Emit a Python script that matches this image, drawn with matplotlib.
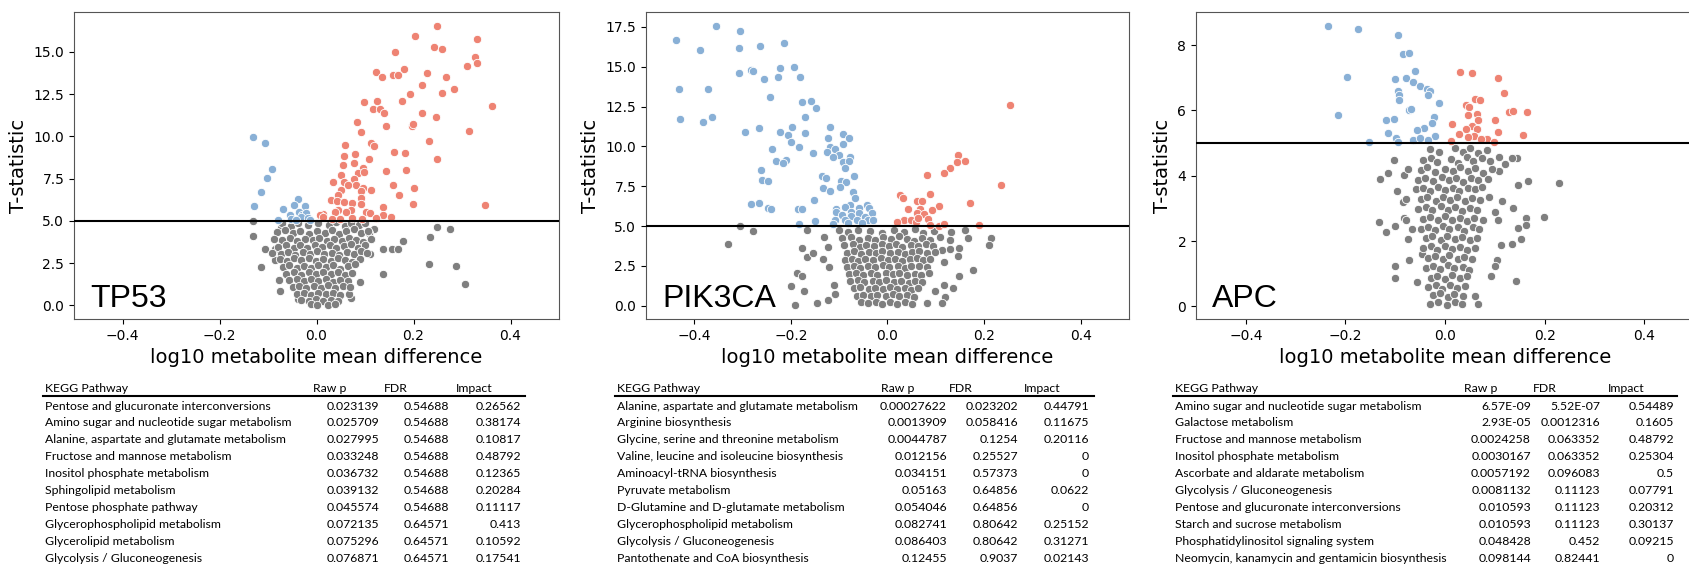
import numpy as np
import matplotlib.pyplot as plt
from matplotlib.lines import Line2D

# ---- scatter data (x = log10 mean difference, y = T-statistic) ----
tp53_up = [
    (0.249, 16.53), (0.204, 15.91), (0.331, 15.77), (0.242, 15.26), (0.259, 15.14),
    (0.161, 14.98), (0.326, 14.68), (0.331, 14.35), (0.311, 14.15), (0.180, 13.99),
    (0.123, 13.83), (0.158, 13.65), (0.168, 13.65), (0.227, 13.73), (0.135, 13.49),
    (0.266, 13.49), (0.218, 13.04), (0.283, 12.80), (0.258, 12.56), (0.192, 12.50),
    (0.098, 12.06), (0.125, 12.10), (0.176, 12.10), (0.116, 11.61), (0.131, 11.61),
    (0.139, 11.41), (0.362, 11.81), (0.218, 11.37), (0.247, 11.13), (0.144, 10.63),
    (0.196, 10.62), (0.199, 10.75), (0.083, 10.83), (0.314, 10.34), (0.092, 10.28),
    (0.232, 9.74), (0.113, 9.58), (0.119, 9.42), (0.058, 9.46), (0.159, 9.07),
    (0.182, 9.03), (0.080, 8.93), (0.056, 8.81), (0.249, 8.67), (0.108, 8.67),
    (0.078, 8.41), (0.054, 8.31), (0.096, 8.10), (0.144, 7.96), (0.185, 8.02),
    (0.086, 7.84), (0.098, 7.90), (0.050, 7.70), (0.077, 7.46), (0.035, 7.30),
    (0.056, 7.30), (0.157, 7.12), (0.081, 7.12), (0.065, 7.12), (0.050, 6.85),
    (0.112, 6.83), (0.096, 6.92), (0.201, 6.94), (0.092, 6.77), (0.170, 6.51),
    (0.044, 6.53), (0.092, 6.33), (0.030, 6.25), (0.043, 6.17), (0.056, 6.13),
    (0.074, 6.05), (0.092, 6.01), (0.199, 5.99), (0.347, 5.95), (0.137, 5.83),
    (0.044, 5.65), (0.072, 5.62), (0.038, 5.50), (0.102, 5.54), (0.111, 5.46),
    (0.013, 5.42), (0.061, 5.50), (0.137, 5.34), (0.007, 5.34), (0.153, 5.22),
    (0.123, 5.18), (0.013, 5.22), (0.032, 5.10), (0.048, 5.12), (0.074, 5.14),
    (0.094, 5.10),
]
tp53_down = [
    (-0.130, 9.94), (-0.106, 9.60), (-0.092, 8.06), (-0.103, 7.56), (-0.115, 6.71),
    (-0.128, 5.87), (-0.038, 6.31), (-0.047, 5.93), (-0.024, 5.89), (-0.069, 5.71),
    (-0.037, 5.54), (-0.055, 5.36), (-0.030, 5.36), (-0.021, 5.46), (-0.079, 5.06),
    (-0.052, 5.10), (-0.031, 5.22), (-0.018, 5.16), (-0.013, 5.06), (-0.043, 5.06),
]
tp53_ns = [
    (-0.130, 4.98), (-0.130, 4.11), (-0.114, 2.26), (-0.076, 0.83), (0.248, 4.62),
    (0.275, 4.50), (0.235, 4.05), (0.232, 2.42), (0.288, 2.34), (0.306, 1.27),
    (0.137, 1.83), (0.137, 3.31), (0.156, 3.31), (0.168, 3.35), (0.179, 3.79),
    (0.119, 4.54), (0.113, 3.91), (0.108, 4.27), (0.111, 3.04), (0.089, 1.39),
    (0.072, 0.44), (0.066, 0.69), (-0.086, 2.68), (-0.107, 3.31), (-0.085, 3.31),
    (-0.074, 4.60), (-0.078, 1.53), (-0.038, 0.36),
    (-0.072, 4.85), (-0.052, 4.72), (-0.038, 4.90), (-0.018, 4.78), (0.004, 4.88),
    (0.026, 4.74), (0.041, 4.92), (0.058, 4.70), (0.072, 4.86), (0.088, 4.76),
    (0.101, 4.90),
    (-0.081, 4.32), (-0.064, 4.45), (-0.049, 4.28), (-0.033, 4.40), (-0.016, 4.25),
    (0.001, 4.42), (0.017, 4.30), (0.032, 4.47), (0.046, 4.22), (0.061, 4.38),
    (0.077, 4.50), (0.092, 4.28), (0.106, 4.40),
    (-0.088, 3.92), (-0.071, 3.84), (-0.054, 3.98), (-0.041, 3.80), (-0.024, 3.95),
    (-0.008, 3.86), (0.006, 4.00), (0.021, 3.82), (0.036, 3.94), (0.052, 3.78),
    (0.066, 3.96), (0.081, 3.85), (0.096, 3.72), (0.112, 3.90),
    (-0.079, 3.45), (-0.063, 3.58), (-0.047, 3.42), (-0.034, 3.55), (-0.019, 3.40),
    (-0.003, 3.60), (0.012, 3.45), (0.027, 3.58), (0.041, 3.38), (0.057, 3.52),
    (0.071, 3.62), (0.086, 3.42), (0.099, 3.55),
    (-0.092, 3.12), (-0.074, 3.05), (-0.058, 3.18), (-0.044, 3.00), (-0.028, 3.15),
    (-0.013, 3.02), (0.002, 3.20), (0.016, 3.06), (0.031, 3.12), (0.047, 2.98),
    (0.062, 3.16), (0.077, 3.04), (0.091, 3.22), (0.104, 3.10),
    (-0.076, 2.72), (-0.061, 2.62), (-0.046, 2.78), (-0.031, 2.66), (-0.016, 2.80),
    (-0.001, 2.60), (0.014, 2.75), (0.029, 2.64), (0.044, 2.80), (0.059, 2.68),
    (0.074, 2.58), (0.089, 2.76),
    (-0.069, 2.28), (-0.056, 2.38), (-0.041, 2.22), (-0.026, 2.35), (-0.011, 2.20),
    (0.004, 2.40), (0.019, 2.25), (0.034, 2.36), (0.049, 2.18), (0.064, 2.32),
    (0.079, 2.42),
    (-0.062, 1.88), (-0.046, 1.98), (-0.031, 1.82), (-0.016, 1.95), (-0.001, 1.85),
    (0.014, 2.00), (0.029, 1.84), (0.044, 1.96), (0.059, 1.80), (0.074, 1.92),
    (-0.056, 1.48), (-0.041, 1.56), (-0.026, 1.42), (-0.011, 1.58), (0.004, 1.45),
    (0.019, 1.55), (0.034, 1.40), (0.049, 1.52), (0.064, 1.46),
    (-0.049, 1.08), (-0.036, 1.16), (-0.021, 1.02), (-0.006, 1.14), (0.009, 1.05),
    (0.024, 1.18), (0.039, 1.00), (0.054, 1.12), (0.069, 1.06),
    (-0.041, 0.68), (-0.026, 0.74), (-0.011, 0.62), (0.004, 0.75), (0.019, 0.66),
    (0.034, 0.72), (0.049, 0.64),
    (-0.031, 0.32), (-0.016, 0.26), (-0.001, 0.36), (0.014, 0.28), (0.029, 0.34),
    (0.044, 0.25),
    (-0.012, 0.06), (0.001, 0.02), (0.024, 0.04), (0.038, 0.10),
]

pik3ca_up = [
    (0.254, 12.60), (0.146, 9.44), (0.143, 9.02), (0.161, 9.06), (0.129, 8.66),
    (0.118, 8.32), (0.081, 8.23), (0.236, 7.57), (0.088, 6.98), (0.026, 6.94),
    (0.033, 6.75), (0.062, 6.60), (0.072, 6.58), (0.171, 6.47), (0.106, 6.26),
    (0.067, 6.09), (0.043, 6.05), (0.092, 6.00), (0.061, 5.81), (0.075, 5.73),
    (0.035, 5.41), (0.048, 5.35), (0.059, 5.24), (0.083, 5.45), (0.087, 5.09),
    (0.106, 5.03), (0.116, 5.13), (0.190, 5.09), (0.020, 5.24), (0.064, 5.52),
]
pik3ca_down = [
    (-0.356, 17.56), (-0.306, 17.23), (-0.438, 16.67), (-0.214, 16.50), (-0.263, 16.31),
    (-0.388, 16.08), (-0.308, 16.19), (-0.193, 14.96), (-0.222, 14.89), (-0.282, 14.81),
    (-0.279, 14.74), (-0.308, 14.59), (-0.227, 14.34), (-0.181, 14.36), (-0.255, 14.21),
    (-0.431, 13.62), (-0.372, 13.60), (-0.244, 13.11), (-0.176, 12.81), (-0.158, 12.83),
    (-0.148, 12.43), (-0.429, 11.71), (-0.364, 11.86), (-0.381, 11.52), (-0.170, 11.84),
    (-0.119, 11.22), (-0.197, 11.20), (-0.267, 11.14), (-0.295, 10.92), (-0.222, 10.92),
    (-0.171, 10.82), (-0.092, 10.80), (-0.205, 10.69), (-0.123, 10.54), (-0.079, 10.50),
    (-0.200, 10.29), (-0.093, 10.14), (-0.120, 9.99), (-0.183, 9.95), (-0.240, 9.82),
    (-0.109, 9.82), (-0.126, 9.65), (-0.155, 9.57), (-0.100, 9.44), (-0.078, 9.36),
    (-0.112, 9.33), (-0.231, 9.06), (-0.211, 9.16), (-0.216, 8.93), (-0.092, 9.02),
    (-0.080, 9.08), (-0.087, 8.63), (-0.262, 8.49), (-0.070, 8.15), (-0.135, 8.17),
    (-0.128, 8.00), (-0.260, 7.87), (-0.248, 7.85), (-0.097, 7.85), (-0.086, 7.76),
    (-0.098, 7.42), (-0.133, 7.38), (-0.119, 7.21), (-0.071, 7.15), (-0.067, 6.75),
    (-0.152, 6.64), (-0.283, 6.41), (-0.266, 6.43), (-0.078, 6.34), (-0.042, 6.34),
    (-0.247, 6.11), (-0.242, 6.05), (-0.089, 6.19), (-0.186, 6.09), (-0.176, 6.05),
    (-0.107, 6.09), (-0.107, 5.88), (-0.059, 6.15), (-0.038, 6.13), (-0.076, 5.90),
    (-0.058, 5.79), (-0.032, 5.79), (-0.095, 5.69), (-0.076, 5.62), (-0.047, 5.58),
    (-0.109, 5.41), (-0.087, 5.41), (-0.064, 5.37), (-0.041, 5.39), (-0.031, 5.37),
    (-0.151, 5.30), (-0.183, 5.15), (-0.113, 5.15), (-0.081, 5.20), (-0.052, 5.20),
]
pik3ca_ns = [
    (-0.305, 4.99), (-0.279, 4.71), (-0.330, 3.90), (-0.166, 4.77), (-0.177, 3.65),
    (-0.166, 3.05), (-0.155, 3.29), (-0.132, 4.31), (-0.123, 3.67), (-0.133, 2.95),
    (-0.121, 2.40), (-0.187, 2.06), (-0.177, 1.85), (-0.200, 1.23), (-0.173, 0.95),
    (-0.192, 0.04), (-0.146, 0.19), (-0.123, 0.36), (-0.111, 1.27), (-0.108, 0.74),
    (0.177, 2.27), (0.214, 4.28), (0.211, 3.80), (0.166, 4.28), (0.161, 4.77),
    (0.149, 3.59), (0.146, 3.12), (0.131, 4.65), (0.129, 4.14), (0.112, 3.50),
    (0.116, 2.76), (0.147, 1.85), (0.136, 1.12), (0.118, 1.27), (0.120, 0.53),
    (0.112, 0.15), (0.098, 0.91), (0.081, 0.17), (0.130, 3.54),
    (-0.101, 4.72), (-0.082, 4.60), (-0.061, 4.78), (-0.036, 4.66), (-0.012, 4.55),
    (0.013, 4.74), (0.034, 4.62), (0.056, 4.80), (0.074, 4.58), (0.096, 4.70),
    (-0.094, 4.22), (-0.076, 4.32), (-0.059, 4.15), (-0.041, 4.28), (-0.026, 4.12),
    (-0.009, 4.30), (0.007, 4.18), (0.023, 4.35), (0.041, 4.20), (0.055, 4.08),
    (0.071, 4.26), (0.089, 4.14), (0.108, 4.30),
    (-0.091, 3.78), (-0.072, 3.86), (-0.057, 3.70), (-0.044, 3.84), (-0.028, 3.74),
    (-0.012, 3.90), (0.003, 3.76), (0.018, 3.86), (0.031, 3.68), (0.048, 3.82),
    (0.063, 3.72), (0.079, 3.88), (0.094, 3.76),
    (-0.084, 3.32), (-0.069, 3.42), (-0.054, 3.26), (-0.039, 3.38), (-0.024, 3.30),
    (-0.011, 3.45), (0.006, 3.28), (0.021, 3.40), (0.036, 3.25), (0.051, 3.36),
    (0.066, 3.44), (0.081, 3.30), (0.099, 3.38),
    (-0.089, 2.88), (-0.074, 2.96), (-0.061, 2.82), (-0.046, 2.92), (-0.031, 2.84),
    (-0.014, 2.98), (0.001, 2.86), (0.016, 2.94), (0.029, 2.80), (0.046, 2.90),
    (0.061, 2.98), (0.074, 2.84), (0.089, 2.92),
    (-0.084, 2.42), (-0.069, 2.52), (-0.056, 2.38), (-0.041, 2.48), (-0.026, 2.40),
    (-0.009, 2.55), (0.004, 2.40), (0.021, 2.50), (0.036, 2.36), (0.049, 2.46),
    (0.066, 2.52), (0.081, 2.40),
    (-0.079, 1.98), (-0.066, 2.06), (-0.051, 1.94), (-0.034, 2.04), (-0.021, 1.92),
    (-0.004, 2.08), (0.011, 1.96), (0.024, 2.05), (0.041, 1.90), (0.056, 2.02),
    (0.069, 1.94), (0.086, 2.06),
    (-0.077, 1.52), (-0.061, 1.60), (-0.048, 1.48), (-0.031, 1.58), (-0.018, 1.46),
    (-0.003, 1.62), (0.014, 1.50), (0.027, 1.58), (0.044, 1.45), (0.057, 1.56),
    (0.072, 1.50),
    (-0.069, 1.08), (-0.056, 1.16), (-0.039, 1.04), (-0.026, 1.14), (-0.009, 1.02),
    (0.006, 1.16), (0.019, 1.06), (0.036, 1.12), (0.049, 1.00), (0.064, 1.10),
    (-0.064, 0.62), (-0.051, 0.70), (-0.034, 0.58), (-0.021, 0.68), (-0.004, 0.60),
    (0.011, 0.72), (0.024, 0.60), (0.041, 0.66), (0.054, 0.56),
    (-0.054, 0.22), (-0.041, 0.14), (-0.024, 0.26), (-0.011, 0.12), (0.006, 0.24),
    (0.019, 0.10), (0.036, 0.20), (0.051, 0.12),
]

apc_up = [
    (0.031, 7.19), (0.054, 7.15), (0.107, 6.99), (0.118, 6.54), (0.060, 6.36),
    (0.071, 6.31), (0.043, 6.18), (0.049, 6.10), (0.129, 5.95), (0.137, 5.99),
    (0.165, 5.95), (0.047, 5.87), (0.065, 5.90), (0.067, 5.71), (0.014, 5.60),
    (0.100, 5.71), (0.054, 5.52), (0.042, 5.42), (0.065, 5.42), (0.029, 5.29),
    (0.106, 5.35), (0.157, 5.25), (0.058, 5.23), (0.047, 5.19), (0.085, 5.14),
    (0.012, 5.06), (0.098, 5.04), (0.072, 5.14),
]
apc_down = [
    (-0.235, 8.59), (-0.174, 8.51), (-0.095, 8.32), (-0.084, 7.74), (-0.073, 7.77),
    (-0.196, 7.04), (-0.060, 7.21), (-0.100, 6.96), (-0.079, 7.01), (-0.064, 6.87),
    (-0.051, 6.76), (-0.036, 6.65), (-0.030, 6.60), (-0.035, 6.49), (-0.094, 6.60),
    (-0.092, 6.49), (-0.093, 6.33), (-0.013, 6.23), (-0.072, 6.02), (-0.069, 6.05),
    (-0.214, 5.87), (-0.022, 5.81), (-0.118, 5.70), (-0.103, 5.74), (-0.027, 5.61),
    (-0.042, 5.45), (-0.056, 5.40), (-0.115, 5.32), (-0.021, 5.22), (-0.099, 5.16),
    (-0.065, 5.11), (-0.051, 5.16), (-0.034, 5.10), (-0.152, 5.04), (-0.094, 5.04),
]
apc_ns = [
    (0.228, 3.77), (0.199, 2.75), (0.166, 3.84), (0.147, 3.71), (0.144, 4.55),
    (0.134, 4.54), (0.108, 4.58), (0.121, 4.37), (0.108, 4.14), (0.094, 4.21),
    (0.136, 3.01), (0.114, 3.22), (0.163, 2.72), (0.163, 2.48), (0.147, 2.39),
    (0.152, 2.05), (0.134, 1.90), (0.106, 2.65), (0.101, 2.90), (0.112, 1.88),
    (0.105, 1.42), (0.100, 1.23), (0.142, 0.78), (0.092, 0.94), (0.067, 0.08),
    (0.061, 0.31), (-0.131, 3.90), (-0.115, 4.09), (-0.103, 4.47), (-0.097, 3.53),
    (-0.084, 3.19), (-0.078, 3.29), (-0.132, 2.57), (-0.118, 2.29), (-0.101, 2.47),
    (-0.100, 1.23), (-0.101, 0.86), (-0.072, 1.42), (-0.074, 2.05), (-0.082, 2.70),
    (-0.078, 2.65), (-0.056, 0.75), (-0.047, 1.61), (-0.066, 2.36), (-0.082, 4.02),
    (-0.075, 4.21),
    (-0.031, 4.82), (-0.012, 4.74), (0.021, 4.86), (0.036, 4.72), (0.051, 4.84),
    (0.067, 4.70), (0.084, 4.80),
    (-0.044, 4.48), (-0.029, 4.56), (-0.016, 4.42), (0.013, 4.52), (0.027, 4.40),
    (0.044, 4.58), (0.057, 4.46), (0.074, 4.54), (0.091, 4.44),
    (-0.049, 4.18), (-0.036, 4.26), (-0.021, 4.12), (0.001, 4.22), (0.016, 4.14),
    (0.031, 4.28), (0.046, 4.16), (0.061, 4.24), (0.077, 4.10),
    (-0.054, 3.88), (-0.041, 3.94), (-0.024, 3.84), (-0.007, 3.96), (0.009, 3.86),
    (0.023, 3.92), (0.036, 3.80), (0.053, 3.94), (0.066, 3.86), (0.086, 3.90),
    (-0.059, 3.58), (-0.044, 3.64), (-0.031, 3.54), (-0.014, 3.66), (0.001, 3.56),
    (0.016, 3.62), (0.029, 3.52), (0.046, 3.64), (0.061, 3.58), (0.074, 3.66),
    (-0.049, 3.28), (-0.036, 3.34), (-0.019, 3.24), (-0.004, 3.36), (0.011, 3.26),
    (0.024, 3.34), (0.041, 3.22), (0.054, 3.32), (0.071, 3.26), (0.088, 3.34),
    (-0.054, 2.98), (-0.039, 3.04), (-0.026, 2.94), (-0.009, 3.06), (0.006, 2.96),
    (0.021, 3.04), (0.034, 2.92), (0.051, 3.02), (0.064, 2.96),
    (-0.044, 2.68), (-0.031, 2.74), (-0.014, 2.64), (0.001, 2.76), (0.014, 2.66),
    (0.031, 2.72), (0.044, 2.62), (0.059, 2.72), (0.076, 2.66),
    (-0.049, 2.38), (-0.034, 2.44), (-0.021, 2.34), (-0.004, 2.46), (0.009, 2.36),
    (0.026, 2.42), (0.039, 2.32), (0.056, 2.44), (0.069, 2.38),
    (-0.039, 2.08), (-0.026, 2.14), (-0.009, 2.04), (0.004, 2.16), (0.021, 2.06),
    (0.034, 2.12), (0.051, 2.02), (0.064, 2.10),
    (-0.044, 1.78), (-0.029, 1.84), (-0.016, 1.74), (0.001, 1.86), (0.014, 1.76),
    (0.031, 1.82), (0.044, 1.72), (0.061, 1.80),
    (-0.034, 1.48), (-0.021, 1.54), (-0.004, 1.44), (0.009, 1.56), (0.026, 1.46),
    (0.039, 1.52), (0.054, 1.44),
    (-0.039, 1.18), (-0.024, 1.24), (-0.011, 1.14), (0.006, 1.26), (0.019, 1.16),
    (0.036, 1.22), (0.049, 1.12),
    (-0.029, 0.88), (-0.016, 0.94), (0.001, 0.84), (0.014, 0.96), (0.031, 0.86),
    (0.044, 0.92),
    (-0.034, 0.58), (-0.019, 0.64), (-0.006, 0.54), (0.011, 0.66), (0.024, 0.56),
    (0.041, 0.62),
    (-0.024, 0.34), (-0.011, 0.40), (0.006, 0.30), (0.019, 0.38), (0.036, 0.32),
    (-0.031, 0.08), (-0.014, 0.14), (0.004, 0.04), (0.021, 0.12), (0.034, 0.06),
]

# ---- pathway tables ----
tp53_path = ["Pentose and glucuronate interconversions",
             "Amino sugar and nucleotide sugar metabolism",
             "Alanine, aspartate and glutamate metabolism",
             "Fructose and mannose metabolism",
             "Inositol phosphate metabolism",
             "Sphingolipid metabolism",
             "Pentose phosphate pathway",
             "Glycerophospholipid metabolism",
             "Glycerolipid metabolism",
             "Glycolysis / Gluconeogenesis"]
tp53_rawp = ["0.023139", "0.025709", "0.027995", "0.033248", "0.036732",
             "0.039132", "0.045574", "0.072135", "0.075296", "0.076871"]
tp53_fdr = ["0.54688", "0.54688", "0.54688", "0.54688", "0.54688",
            "0.54688", "0.54688", "0.64571", "0.64571", "0.64571"]
tp53_impact = ["0.26562", "0.38174", "0.10817", "0.48792", "0.12365",
               "0.20284", "0.11117", "0.413", "0.10592", "0.17541"]

pik3ca_path = ["Alanine, aspartate and glutamate metabolism",
               "Arginine biosynthesis",
               "Glycine, serine and threonine metabolism",
               "Valine, leucine and isoleucine biosynthesis",
               "Aminoacyl-tRNA biosynthesis",
               "Pyruvate metabolism",
               "D-Glutamine and D-glutamate metabolism",
               "Glycerophospholipid metabolism",
               "Glycolysis / Gluconeogenesis",
               "Pantothenate and CoA biosynthesis"]
pik3ca_rawp = ["0.00027622", "0.0013909", "0.0044787", "0.012156", "0.034151",
               "0.05163", "0.054046", "0.082741", "0.086403", "0.12455"]
pik3ca_fdr = ["0.023202", "0.058416", "0.1254", "0.25527", "0.57373",
              "0.64856", "0.64856", "0.80642", "0.80642", "0.9037"]
pik3ca_impact = ["0.44791", "0.11675", "0.20116", "0", "0",
                 "0.0622", "0", "0.25152", "0.31271", "0.02143"]

apc_path = ["Amino sugar and nucleotide sugar metabolism",
            "Galactose metabolism",
            "Fructose and mannose metabolism",
            "Inositol phosphate metabolism",
            "Ascorbate and aldarate metabolism",
            "Glycolysis / Gluconeogenesis",
            "Pentose and glucuronate interconversions",
            "Starch and sucrose metabolism",
            "Phosphatidylinositol signaling system",
            "Neomycin, kanamycin and gentamicin biosynthesis"]
apc_rawp = ["6.57E-09", "2.93E-05", "0.0024258", "0.0030167", "0.0057192",
            "0.0081132", "0.010593", "0.010593", "0.048428", "0.098144"]
apc_fdr = ["5.52E-07", "0.0012316", "0.063352", "0.063352", "0.096083",
           "0.11123", "0.11123", "0.11123", "0.452", "0.82441"]
apc_impact = ["0.54489", "0.1605", "0.48792", "0.25304", "0.5",
              "0.07791", "0.20312", "0.30137", "0.09215", "0"]

GRAY = "#7f7f7f"
BLUE = "#89b0d6"
RED = "#ee8373"

W, H = 1690, 570
fig = plt.figure(figsize=(W / 100, H / 100), dpi=100)

# pixel boxes (left, right) of the three scatter axes
panels = [
    ("TP53", tp53_ns, tp53_down, tp53_up, 74, 559),
    ("PIK3CA", pik3ca_ns, pik3ca_down, pik3ca_up, 646, 1129),
    ("APC", apc_ns, apc_down, apc_up, 1196, 1694),
]
top, bottom = 12, 319

for gene, ns, down, up, left, right in panels:
    ax = fig.add_axes([left / W, 1 - bottom / H, (right - left) / W, (bottom - top) / H])
    for pts, col in [(ns, GRAY), (down, BLUE), (up, RED)]:
        arr = np.array(pts)
        ax.scatter(arr[:, 0], arr[:, 1], s=36, color=col,
                   edgecolors="white", linewidths=0.6, zorder=2)
    ax.axhline(5, color="black", lw=1.5, zorder=3)
    ax.set_xlim(-0.5, 0.5)
    ax.set_xticks([-0.4, -0.2, 0.0, 0.2, 0.4])
    ax.tick_params(labelsize=10)
    ax.set_xlabel("log10 metabolite mean difference", fontsize=14)
    ax.set_ylabel("T-statistic", fontsize=14)
    for sp in ax.spines.values():
        sp.set_color("#555555")
    ax.text(0.033, 0.04, gene, transform=ax.transAxes, fontsize=23,
            family="Liberation Sans", va="baseline")

# tables: (name x, raw hdr x, fdr hdr x, impact hdr x, raw right, fdr right, impact right, line x0, line x1)
tables = [
    (tp53_path, tp53_rawp, tp53_fdr, tp53_impact, (45, 313, 384, 456, 379, 449, 521, 43, 525)),
    (pik3ca_path, pik3ca_rawp, pik3ca_fdr, pik3ca_impact, (617, 881, 949, 1024, 947, 1018, 1089, 615, 1094)),
    (apc_path, apc_rawp, apc_fdr, apc_impact, (1175, 1464, 1533, 1608, 1531, 1600, 1674, 1173, 1677)),
]
tfont = dict(fontsize=8.8, family="Lato", va="center")
hdr_y, line_y, row0, step = 388, 396, 406, 16.9

def fx(x):
    return x / W

def fy(y):
    return 1 - y / H

for names, rawp, fdr, imp, pos in tables:
    nx, rhx, fhx, ihx, rr, fr, ir, l0, l1 = pos
    fig.text(fx(nx), fy(hdr_y), "KEGG Pathway", ha="left", **tfont)
    fig.text(fx(rhx), fy(hdr_y), "Raw p", ha="left", **tfont)
    fig.text(fx(fhx), fy(hdr_y), "FDR", ha="left", **tfont)
    fig.text(fx(ihx), fy(hdr_y), "Impact", ha="left", **tfont)
    fig.add_artist(Line2D([fx(l0), fx(l1)], [fy(line_y), fy(line_y)],
                          color="black", lw=1.5, transform=fig.transFigure))
    for i in range(len(names)):
        y = fy(row0 + i * step)
        fig.text(fx(nx), y, names[i], ha="left", **tfont)
        fig.text(fx(rr), y, rawp[i], ha="right", **tfont)
        fig.text(fx(fr), y, fdr[i], ha="right", **tfont)
        fig.text(fx(ir), y, imp[i], ha="right", **tfont)

fig.savefig("out.png", dpi=100)
